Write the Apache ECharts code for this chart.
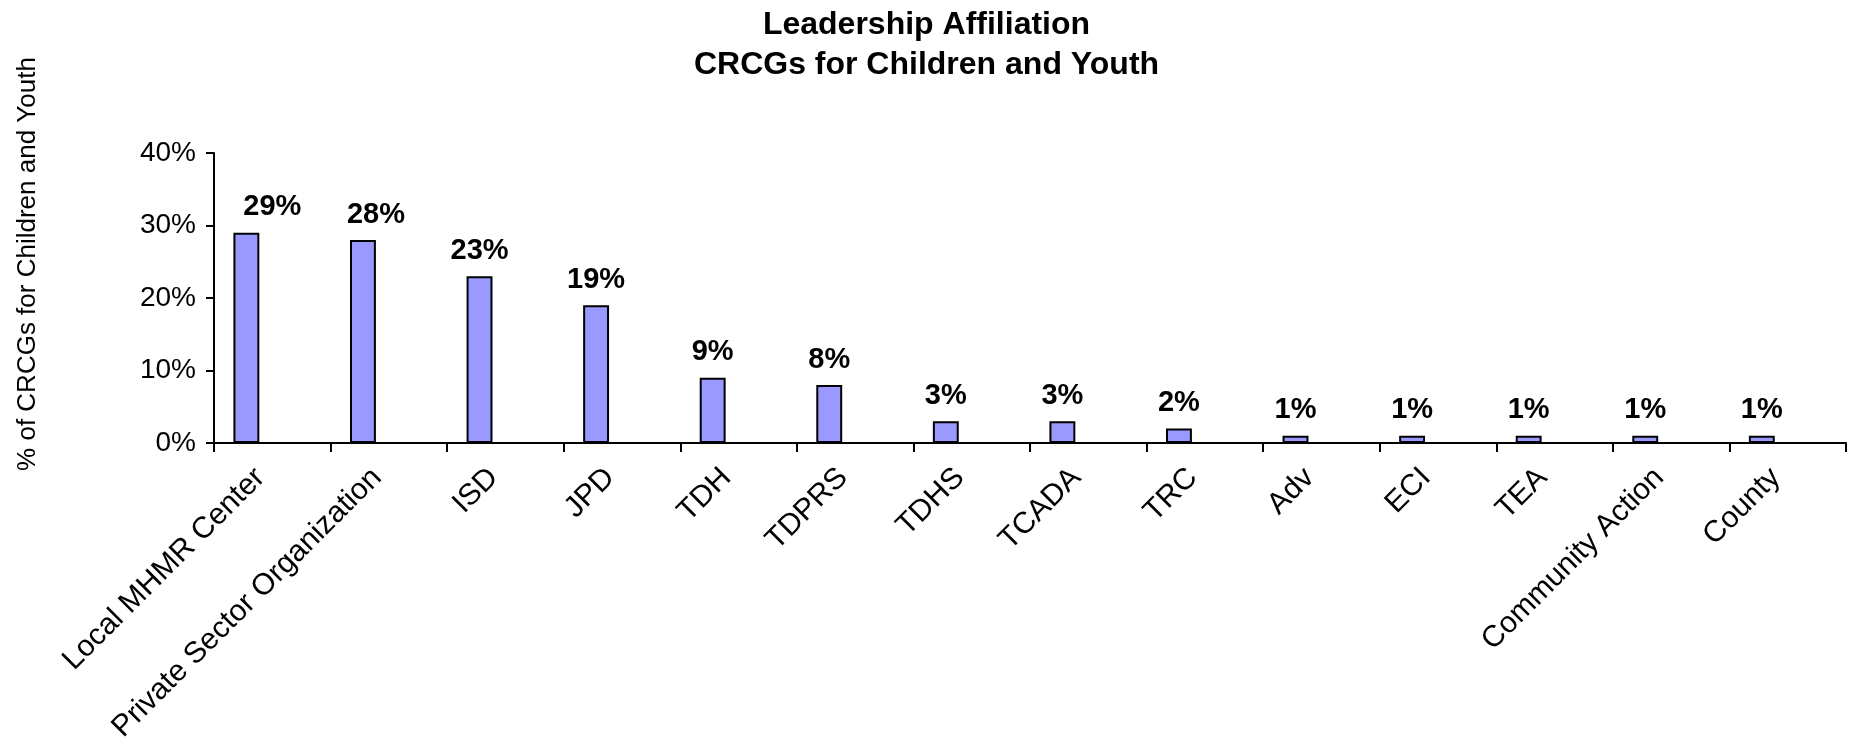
<!DOCTYPE html>
<html>
<head>
<meta charset="utf-8">
<script src="https://cdn.jsdelivr.net/npm/echarts@6/dist/echarts.min.js"></script>
<style>
html,body{margin:0;padding:0;background:#fff;}
#chart{width:1853px;height:745px;}
</style>
</head>
<body>
<div id="chart"></div>
<script>
const categories = ['Local MHMR Center','Private Sector Organization','ISD','JPD','TDH','TDPRS','TDHS','TCADA','TRC','Adv','ECI','TEA','Community Action','County'];
const values = [29, 28, 23, 19, 9, 8, 3, 3, 2, 1, 1, 1, 1, 1];
const emptySeriesA = [];
const emptySeriesB = [];
const yTicks = { min: 0, max: 40, interval: 10 };
const titleLines = ['Leadership Affiliation', 'CRCGs for Children and Youth'];
const yAxisName = '% of CRCGs for Children and Youth';

const FONT = '"Liberation Sans", Arial, sans-serif';
const labelNudge = { 0: [26, 0], 1: [13, 0] };

const chart = echarts.init(document.getElementById('chart'), null, { renderer: 'canvas' });
chart.setOption({
  backgroundColor: '#ffffff',
  animation: false,
  title: {
    text: titleLines.join('\n'),
    left: 'center',
    top: 0,
    textStyle: { fontFamily: FONT, fontWeight: 'bold', fontSize: 32, color: '#000', lineHeight: 40 }
  },
  graphic: [{
    type: 'text',
    x: 28, y: 264,
    rotation: Math.PI / 2,
    style: { text: yAxisName, fontFamily: FONT, fontSize: 26, fill: '#000', align: 'center', verticalAlign: 'middle' }
  }],
  grid: { left: 214, right: 7, top: 153, bottom: 302, containLabel: false, outerBoundsMode: 'none' },
  xAxis: {
    type: 'category',
    data: categories,
    axisLine: { lineStyle: { color: '#000', width: 2 } },
    axisTick: { show: true, length: 9, lineStyle: { color: '#000', width: 2 } },
    axisLabel: { rotate: 45, interval: 0, margin: 18, padding: [0, 17, 0, 0], fontFamily: FONT, fontSize: 30, color: '#000' }
  },
  yAxis: {
    type: 'value',
    min: yTicks.min, max: yTicks.max, interval: yTicks.interval,
    axisLine: { show: true, lineStyle: { color: '#000', width: 2 } },
    axisTick: { show: true, length: 8, lineStyle: { color: '#000', width: 2 } },
    splitLine: { show: false },
    axisLabel: { formatter: '{value}%', margin: 18, fontFamily: FONT, fontSize: 28, color: '#000' }
  },
  series: [
    {
      type: 'bar',
      data: values.map((v, i) => labelNudge[i] ? { value: v, label: { offset: labelNudge[i] } } : v),
      barGap: '0%',
      barCategoryGap: '33.33%',
      itemStyle: { color: '#9999ff', borderColor: '#000', borderWidth: 2 },
      label: { show: true, position: 'top', distance: 11, formatter: '{c}%', fontFamily: FONT, fontWeight: 'bold', fontSize: 29, color: '#000' }
    },
    { type: 'bar', data: emptySeriesA, barGap: '0%', barCategoryGap: '33.33%' },
    { type: 'bar', data: emptySeriesB, barGap: '0%', barCategoryGap: '33.33%' }
  ]
});
</script>
</body>
</html>
